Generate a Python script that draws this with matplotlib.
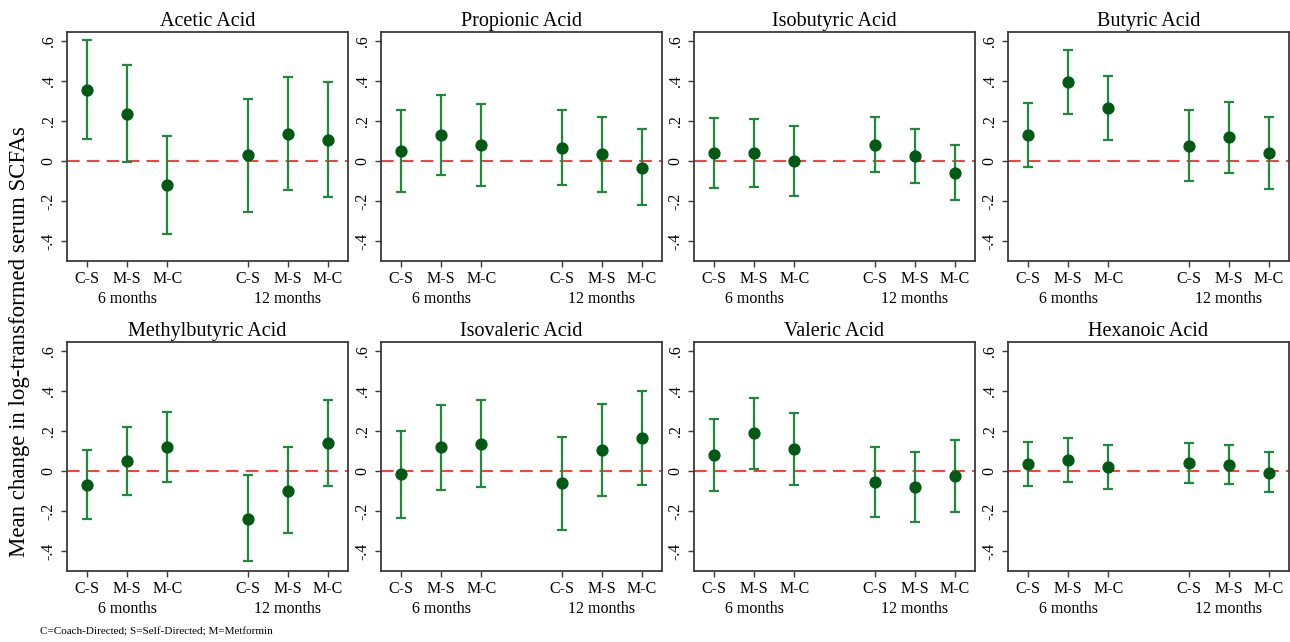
"""Mean change in log-transformed serum SCFAs by comparison, 6 and 12 months.

Eight small panels (one per acid), point estimate with 95% CI, red dashed zero line.
Writes out.png.
"""
import matplotlib.pyplot as plt
import matplotlib.transforms as mtransforms

ACIDS = ["Acetic Acid", "Propionic Acid", "Isobutyric Acid", "Butyric Acid",
         "Methylbutyric Acid", "Isovaleric Acid", "Valeric Acid", "Hexanoic Acid"]
COMPARISONS = ["C-S", "M-S", "M-C", "C-S", "M-S", "M-C"]
PERIODS = ["6 months", "12 months"]

# estimates, lower and upper CI bounds (6m C-S, M-S, M-C, 12m C-S, M-S, M-C)
acetic = [0.357, 0.237, -0.122, 0.028, 0.137, 0.107]
acetic_lo = [0.110, -0.003, -0.367, -0.253, -0.145, -0.178]
acetic_hi = [0.603, 0.482, 0.127, 0.312, 0.422, 0.397]

propionic = [0.050, 0.130, 0.080, 0.067, 0.035, -0.035]
propionic_lo = [-0.155, -0.072, -0.125, -0.120, -0.153, -0.222]
propionic_hi = [0.255, 0.332, 0.283, 0.255, 0.222, 0.158]

isobutyric = [0.040, 0.040, 0.000, 0.080, 0.025, -0.060]
isobutyric_lo = [-0.135, -0.132, -0.175, -0.055, -0.112, -0.197]
isobutyric_hi = [0.215, 0.212, 0.175, 0.220, 0.160, 0.080]

butyric = [0.132, 0.395, 0.265, 0.077, 0.118, 0.040]
butyric_lo = [-0.032, 0.237, 0.105, -0.098, -0.058, -0.140]
butyric_hi = [0.290, 0.557, 0.427, 0.257, 0.293, 0.218]

methylbutyric = [-0.068, 0.048, 0.118, -0.238, -0.098, 0.140]
methylbutyric_lo = [-0.242, -0.120, -0.055, -0.452, -0.312, -0.077]
methylbutyric_hi = [0.105, 0.222, 0.293, -0.022, 0.120, 0.357]

isovaleric = [-0.017, 0.118, 0.137, -0.060, 0.105, 0.165]
isovaleric_lo = [-0.233, -0.095, -0.080, -0.293, -0.127, -0.068]
isovaleric_hi = [0.198, 0.332, 0.355, 0.172, 0.337, 0.402]

valeric = [0.078, 0.188, 0.108, -0.055, -0.082, -0.025]
valeric_lo = [-0.102, 0.010, -0.070, -0.232, -0.257, -0.203]
valeric_hi = [0.262, 0.367, 0.290, 0.122, 0.097, 0.155]

hexanoic = [0.035, 0.053, 0.020, 0.038, 0.032, -0.008]
hexanoic_lo = [-0.077, -0.055, -0.090, -0.060, -0.067, -0.107]
hexanoic_hi = [0.143, 0.163, 0.130, 0.138, 0.132, 0.093]

ESTIMATES = [acetic, propionic, isobutyric, butyric, methylbutyric, isovaleric, valeric, hexanoic]
LOWER = [acetic_lo, propionic_lo, isobutyric_lo, butyric_lo,
         methylbutyric_lo, isovaleric_lo, valeric_lo, hexanoic_lo]
UPPER = [acetic_hi, propionic_hi, isobutyric_hi, butyric_hi,
         methylbutyric_hi, isovaleric_hi, valeric_hi, hexanoic_hi]

YTICKS = [-0.4, -0.2, 0, 0.2, 0.4, 0.6]
YTICKLABELS = ["-.4", "-.2", "0", ".2", ".4", ".6"]

DOT = "#005a14"
BAR = "#1f8a3c"
ZERO = "#ff2a2a"
FRAME = "#3a3a3a"

plt.rcParams["font.family"] = ["Liberation Serif", "DejaVu Serif"]

W, H = 1290, 642
fig = plt.figure(figsize=(W / 100, H / 100), dpi=100)

col_left = [67, 381, 694, 1008]
row_top = [32, 342]
aw, ah = 281, 229

xpos = [1, 2, 3, 5, 6, 7]
group_x = [2, 6]

for i, name in enumerate(ACIDS):
    r, c = divmod(i, 4)
    ax = fig.add_axes([col_left[c] / W, 1 - (row_top[r] + ah) / H, aw / W, ah / H])
    est, lo, hi = ESTIMATES[i], LOWER[i], UPPER[i]
    yerr = [[e - l for e, l in zip(est, lo)], [h - e for e, h in zip(est, hi)]]
    ax.axhline(0, color=ZERO, lw=1.3, ls=(0, (7, 4)), zorder=1)
    ax.errorbar(xpos, est, yerr=yerr, fmt="none", ecolor=BAR, elinewidth=1.6,
                capsize=3.8, capthick=1.6, zorder=2)
    ax.plot(xpos, est, "o", color=DOT, ms=7.8, zorder=3)

    ax.set_xlim(0.5, 7.5)
    ax.set_ylim(-0.5, 0.645)
    ax.set_xticks(xpos)
    ax.set_xticklabels(COMPARISONS, fontsize=11.5)
    ax.set_yticks(YTICKS)
    ax.set_yticklabels(YTICKLABELS, fontsize=11.5, rotation=90, va="center")
    ax.tick_params(direction="out", length=4.5, width=1.0, color=FRAME, pad=3)
    for sp in ax.spines.values():
        sp.set_color(FRAME)
        sp.set_linewidth(1.3)
    ax.set_title(name, fontsize=14.5, pad=4)

    trans = mtransforms.blended_transform_factory(ax.transData, ax.transAxes)
    for gx, label in zip(group_x, PERIODS):
        ax.text(gx, -0.165, label, transform=trans, ha="center", va="center", fontsize=11.5)

fig.text(20 / W, 1 - 342 / H, "Mean change in log-transformed serum SCFAs",
         rotation=90, ha="center", va="center", fontsize=16.5)
fig.text(40 / W, 1 - 632 / H, "C=Coach-Directed; S=Self-Directed; M=Metformin",
         ha="left", va="center", fontsize=8)

fig.savefig("out.png", dpi=100, facecolor="white")
